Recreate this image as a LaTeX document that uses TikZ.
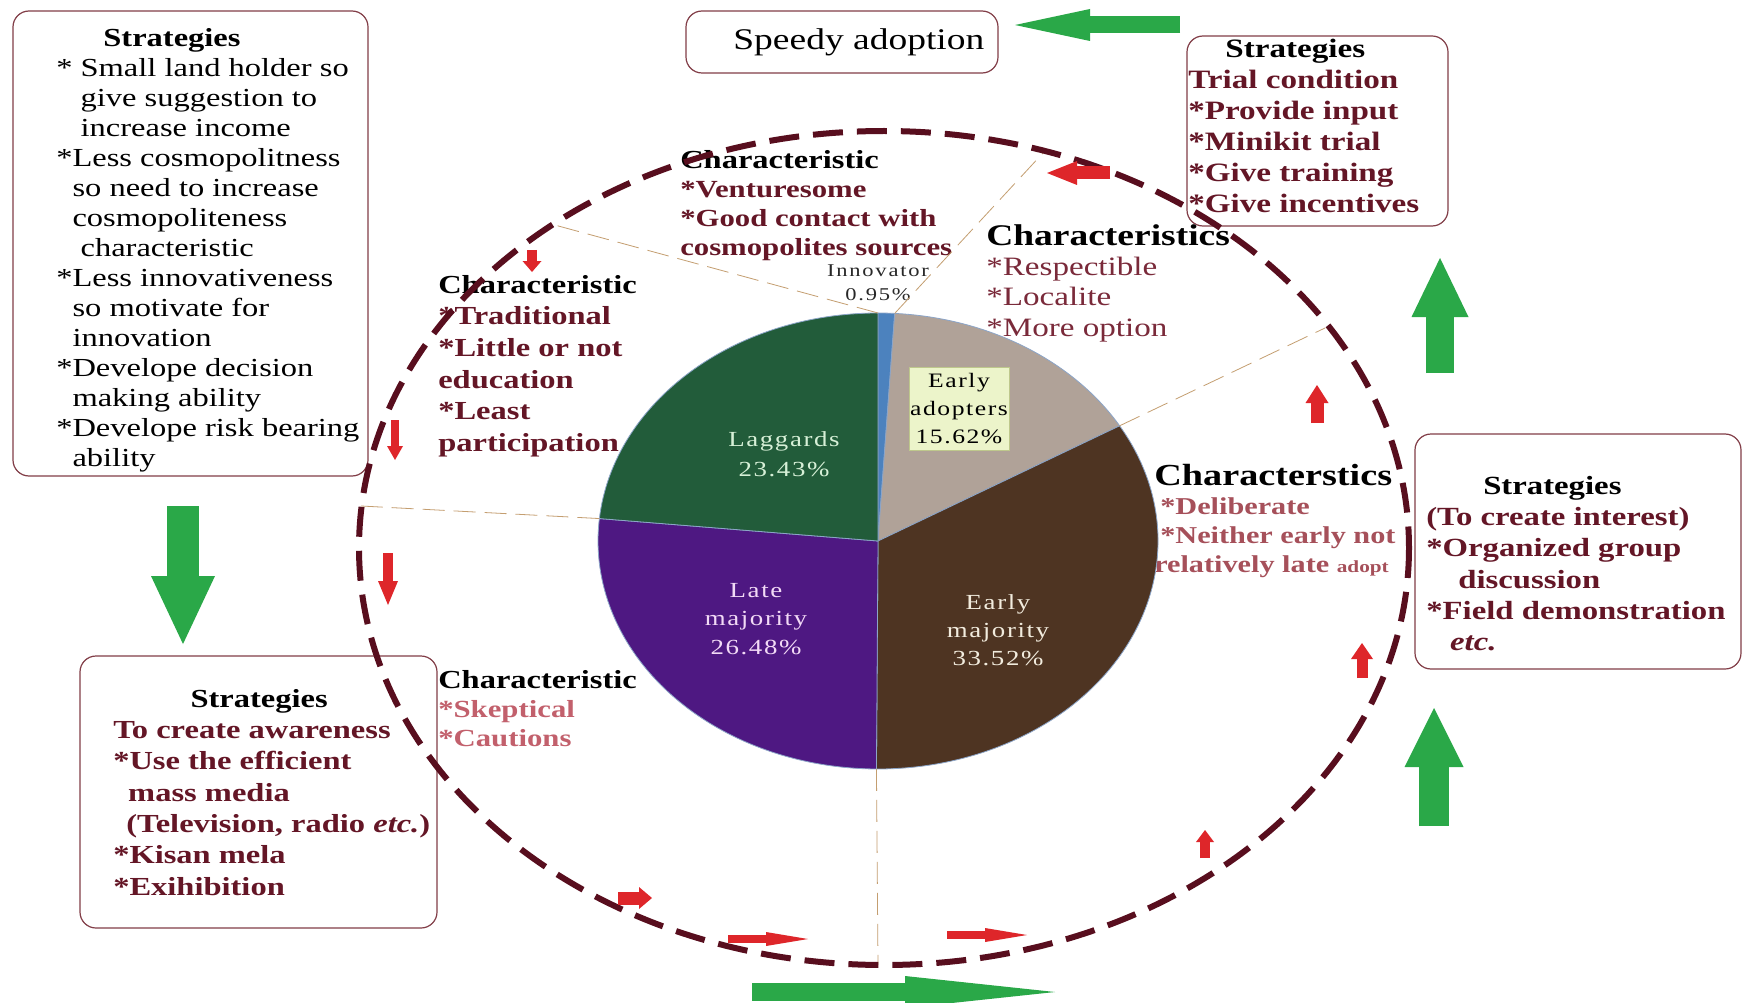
\documentclass[tikz,border=0pt]{standalone}
\usepackage{fontspec}
\setmainfont{Liberation Serif}
\usepackage{tikz}
\usetikzlibrary{arrows.meta,positioning,calc}

\definecolor{ringcol}{RGB}{88,14,30}
\definecolor{darkmaroon}{RGB}{100,22,38}
\definecolor{midmaroon}{RGB}{122,42,58}
\definecolor{rosebrown}{RGB}{166,80,90}
\definecolor{pinkred}{RGB}{194,96,108}
\definecolor{boxline}{RGB}{130,62,72}
\definecolor{flowgreen}{RGB}{42,168,72}
\definecolor{flowred}{RGB}{222,38,42}
\definecolor{guidecol}{RGB}{196,158,112}
\definecolor{slicecol}{RGB}{140,165,200}
\definecolor{lagcol}{RGB}{34,92,58}
\definecolor{eacol}{RGB}{176,162,152}
\definecolor{emcol}{RGB}{78,52,34}
\definecolor{lmcol}{RGB}{78,24,130}
\definecolor{invcol}{RGB}{76,130,190}
\definecolor{eafill}{RGB}{236,244,202}
\definecolor{eadraw}{RGB}{190,200,140}

\begin{document}
\begin{tikzpicture}[x=1pt, y=-1pt,
  box/.style={draw=boxline, line width=1.2pt, rounded corners=16pt, inner sep=0pt},
  txt/.style={anchor=north west, align=left, inner sep=0pt, xscale=1.25},
  plabel/.style={align=center, inner sep=0pt, xscale=1.25},
  ring/.style={draw=ringcol, line width=6pt, dash pattern=on 30pt off 14pt},
  guide/.style={draw=guidecol, line width=0.8pt, dash pattern=on 22pt off 9pt},
  slice/.style={draw=slicecol, line width=0.8pt},
  redarr/.style n args={3}{draw=flowred, line width=#1pt, -{Triangle[length=#3pt, width=#2pt, line width=0pt]}},
  greenarr/.style n args={3}{draw=flowgreen, line width=#1pt, -{Triangle[length=#3pt, width=#2pt, line width=0pt]}}]
\path[use as bounding box, fill=white] (0,0) rectangle (1743,1003);

% boxes
\node[box, minimum width=355, minimum height=465] (sl) at (190.5,243.5) {};
\node[box, xscale=1.25, minimum width=249.6, minimum height=62, font=\fontsize{30}{34}\selectfont] (sp) at (842,42) {\hspace*{27pt}Speedy adoption};
\node[box, minimum width=261, minimum height=190] (sr) at (1317.5,131) {};
\node[box, minimum width=326, minimum height=235] (sm) at (1578,551.5) {};
\node[box, minimum width=357, minimum height=272] (sb) at (258.5,792) {};

% strategies text
\node[txt, font=\fontsize{26}{30}\selectfont] (slt) at (56,28) {\hspace*{1.45em}\textbf{Strategies}\\
* Small land holder so\\ \hspace*{0.75em}give suggestion to\\ \hspace*{0.75em}increase income\\
*Less cosmopolitness\\ \hspace*{0.5em}so need to increase\\ \hspace*{0.5em}cosmopoliteness\\ \hspace*{0.75em}characteristic\\
*Less innovativeness\\ \hspace*{0.5em}so motivate for\\ \hspace*{0.5em}innovation\\
*Develope decision\\ \hspace*{0.5em}making ability\\
*Develope risk bearing\\ \hspace*{0.5em}ability};
\node[txt, text=darkmaroon, font=\fontsize{26.5}{31}\selectfont\bfseries] (srt) at (1188,39) {\hspace*{1.12em}\textcolor{black}{Strategies}\\
Trial condition\\ *Provide input\\ *Minikit trial\\ *Give training\\ *Give incentives};
\node[txt, text=darkmaroon, font=\fontsize{26.2}{31.3}\selectfont\bfseries] (smt) at (1426,476) {\hspace*{1.74em}\textcolor{black}{Strategies}\\
(To create interest)\\ *Organized group\\ \hspace*{0.98em}discussion\\ *Field demonstration\\ \hspace*{0.73em}\textit{etc.}};
\node[txt, text=darkmaroon, font=\fontsize{26}{31.3}\selectfont\bfseries] (sbt) at (113,689) {\hspace*{2.38em}\textcolor{black}{Strategies}\\
To create awareness\\ *Use the efficient\\ \hspace*{0.46em}mass media\\ \hspace*{0.4em}(Television, radio \textit{etc.})\\ *Kisan mela\\ *Exihibition};

% characteristics text
\node[txt, text=darkmaroon, font=\fontsize{24.6}{29}\selectfont\bfseries] (cht) at (680,150) {{\fontsize{26}{29}\selectfont\textcolor{black}{Characteristic}}\\
*Venturesome\\ *Good contact with\\ cosmopolites sources};
\node[txt, text=darkmaroon, font=\fontsize{26}{31.6}\selectfont\bfseries] (chl) at (438,275) {\textcolor{black}{Characteristic}\\
*Traditional\\ *Little or not\\ education\\ *Least\\ participation};
\node[txt, text=midmaroon, font=\fontsize{26.5}{30.4}\selectfont] (chr) at (986,224) {{\fontsize{30}{30.4}\selectfont\bfseries\color{black}Characteristics}\\
*Respectible\\ *Localite\\ *More option};
\node[txt, text=rosebrown, font=\fontsize{24.2}{28.9}\selectfont\bfseries] (chm) at (1154,464) {{\fontsize{30.6}{28.9}\selectfont\color{black}Characterstics}\\
\hspace*{0.2em}*Deliberate\\ \hspace*{0.2em}*Neither early not\\ relatively late {\fontsize{17}{28.9}\selectfont adopt}};
\node[txt, text=pinkred, font=\fontsize{24.6}{28.9}\selectfont\bfseries] (chb) at (438,670) {{\fontsize{26}{28.9}\selectfont\color{black}Characteristic}\\
*Skeptical\\ *Cautions};

% pie
\coordinate (pc) at (878,541);
\foreach \a/\b/\c in {-90/-86.58/invcol, -86.58/-30.35/eacol, -30.35/90.32/emcol, 90.32/185.65/lmcol, 185.65/270/lagcol}
  \filldraw[slice, fill=\c] (pc) -- ++(\a:280 and 228) arc[start angle=\a, end angle=\b, x radius=280, y radius=228] -- cycle;

\node[plabel, text={rgb,255:red,215;green,240;blue,215}, font=\fontsize{21.5}{30}\selectfont\addfontfeature{LetterSpace=6}] (lag) at (784,454) {Laggards\\23.43\%};
\node[plabel, fill=eafill, draw=eadraw, line width=1pt, minimum width=80, minimum height=83, font=\fontsize{20.5}{27.8}\selectfont\addfontfeature{LetterSpace=6}] (ea) at (959,408.5) {Early\\adopters\\15.62\%};
\node[plabel, text={rgb,255:red,242;green,218;blue,246}, font=\fontsize{21.5}{28.3}\selectfont\addfontfeature{LetterSpace=6}] (lm) at (756,619) {Late\\majority\\26.48\%};
\node[plabel, text={rgb,255:red,242;green,236;blue,222}, font=\fontsize{21.5}{28}\selectfont\addfontfeature{LetterSpace=6}] (em) at (998,630) {Early\\majority\\33.52\%};
\node[plabel, text={rgb,255:red,40;green,40;blue,40}, font=\fontsize{18}{24}\selectfont\addfontfeature{LetterSpace=8}] (inv) at (878,283) {Innovator\\0.95\%};

% guide lines from the pie to the ring
\coordinate (pa) at ($(pc)+(-90:280 and 228)$);
\coordinate (pb) at ($(pc)+(-86.58:280 and 228)$);
\coordinate (pcc) at ($(pc)+(-30.35:280 and 228)$);
\coordinate (pd) at ($(pc)+(185.65:280 and 228)$);
\coordinate (pe) at ($(pc)+(90.32:280 and 228)$);
\coordinate (ga) at (551,224);
\coordinate (gb) at (1043,153);
\coordinate (gc) at (1325,328);
\coordinate (gd) at (361,506);
\coordinate (ge) at (878,965);
\draw[guide] (pa) -- (ga);
\draw[guide] (pb) -- (gb);
\draw[guide] (pcc) -- (gc);
\draw[guide] (pd) -- (gd);
\draw[guide] (pe) -- (ge);

% dashed ring
\coordinate (rc) at (884,548);
\draw[ring] (rc) ellipse [x radius=525, y radius=417];

% red flow arrows
\foreach \s/\e/\w/\h/\l [count=\i] in {
  {1110,173}/{1047,173}/13/24/30, {532,250}/{532,272}/10/19/11,
  {395,420}/{395,460}/8/16/14, {388,553}/{388,605}/10/20/24,
  {618,898}/{652,898}/13/22/13, {728,939}/{808,939}/8/14/42,
  {947,935}/{1027,935}/8/14/42, {1205,858}/{1205,830}/10/18/12,
  {1362,678}/{1362,643}/11/22/16, {1317,423}/{1317,385}/13/23/18}{
  \coordinate (r\i a) at (\s);
  \coordinate (r\i b) at (\e);
  \draw[redarr={\w}{\h}{\l}] (r\i a) -- (r\i b);
}

% green flow arrows
\foreach \s/\e/\w/\h/\l [count=\i] in {
  {1180,25}/{1015,25}/17/32/75, {1440,373}/{1440,258}/28/57/59,
  {1434,826}/{1434,708}/30/59/59, {183,506}/{183,644}/32/64/68,
  {752,992}/{1055,992}/18/32/150}{
  \coordinate (g\i a) at (\s);
  \coordinate (g\i b) at (\e);
  \draw[greenarr={\w}{\h}{\l}] (g\i a) -- (g\i b);
}
\end{tikzpicture}
\end{document}
